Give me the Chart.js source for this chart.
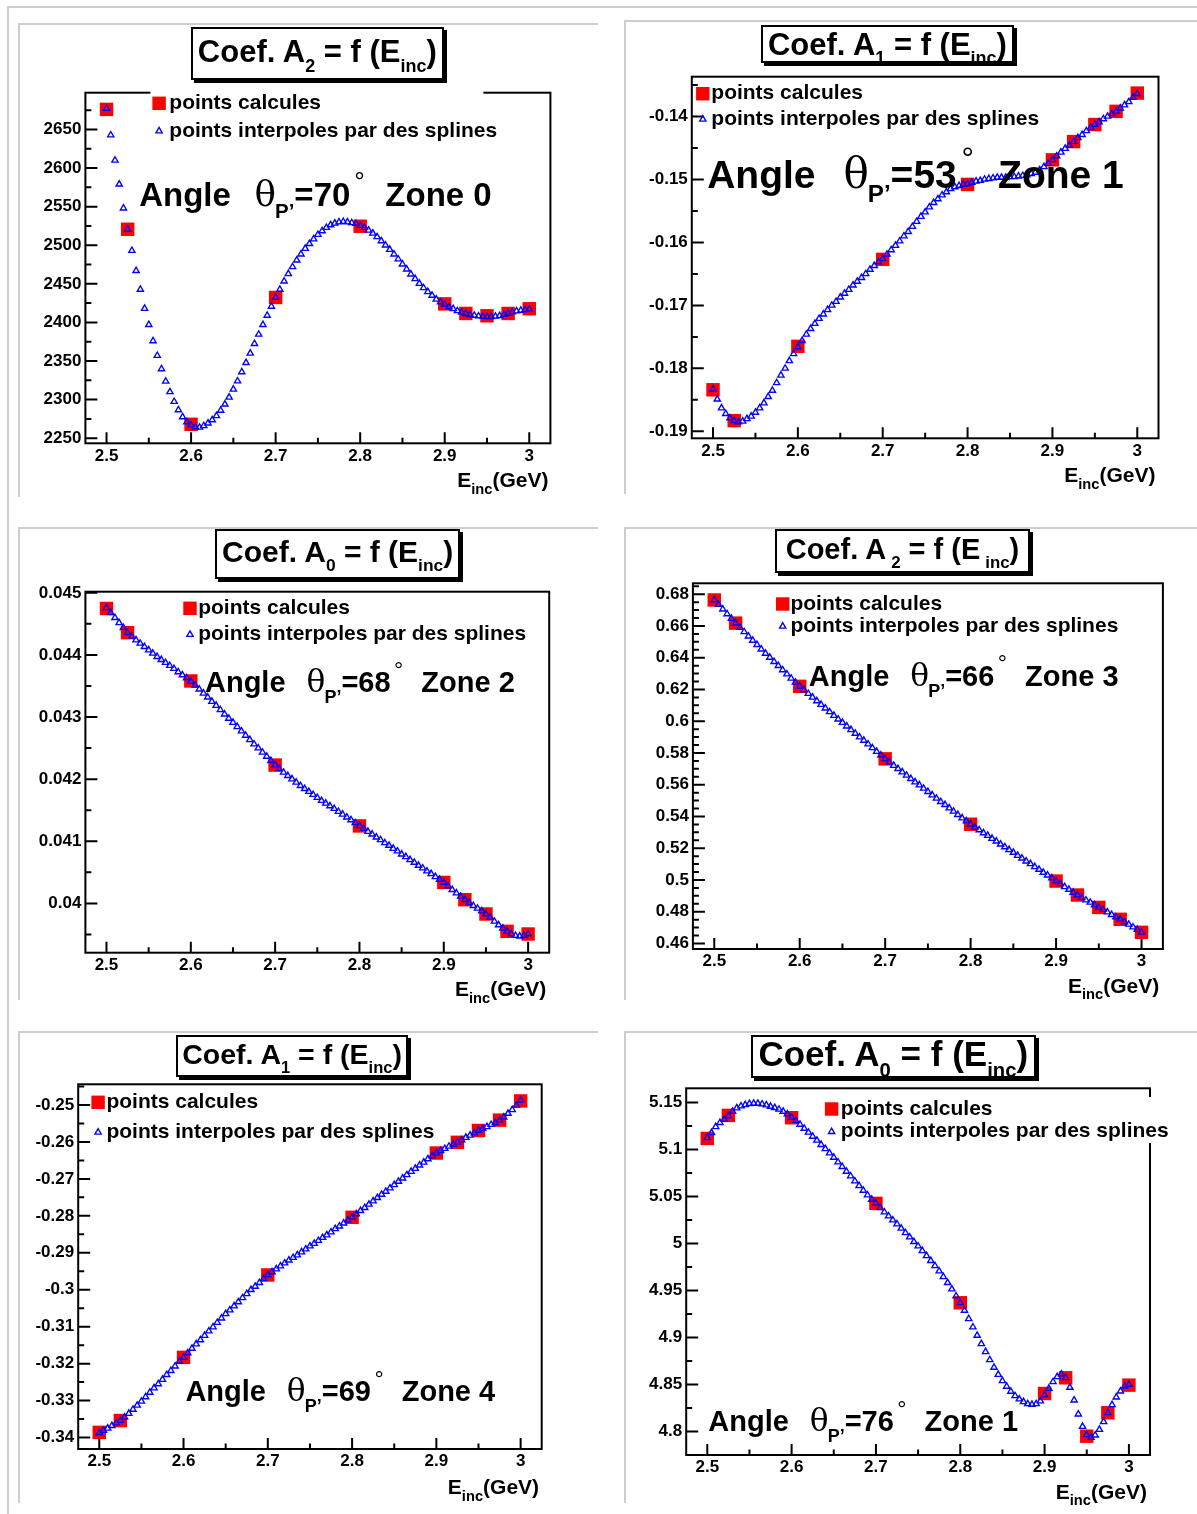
<!DOCTYPE html>
<html>
<head>
<meta charset="utf-8">
<title>Coef. A = f (Einc)</title>
<script src="https://cdn.jsdelivr.net/npm/chart.js@4.4.1/dist/chart.umd.min.js"></script>
<style>
html,body{margin:0;padding:0;background:#fff;overflow:hidden;}
#page{position:relative;width:1197px;height:1514px;overflow:hidden;background:#fff;font-family:"Liberation Sans",Arial,Helvetica,sans-serif;color:#000;}
.gl{position:absolute;background:#cdcdcd;}
canvas{position:absolute;}
.tbox{position:absolute;box-sizing:border-box;border:2px solid #000;background:#fff;box-shadow:3px 3px 0 #000;z-index:5;}
.ttxt{position:absolute;left:0;right:0;text-align:center;white-space:nowrap;font-weight:bold;line-height:1;}
.tsub{font-size:0.58em;position:relative;top:0.52em;}
.ann{position:absolute;white-space:nowrap;font-weight:bold;line-height:1;z-index:4;}
.th{font-family:"DejaVu Serif","Liberation Serif",serif;font-weight:normal;font-size:1.08em;}
.asub{font-size:0.62em;position:relative;top:0.6em;margin-left:-0.05em;}
.deg{font-size:0.8em;font-weight:normal;position:relative;top:-0.62em;margin-left:0.15em;}
.gap1{display:inline-block;width:0.72em;}
.gap2{display:inline-block;width:0.62em;}
.xt{position:absolute;white-space:nowrap;font-weight:bold;line-height:1;font-size:21px;z-index:4;}
.xsub{font-size:0.7em;position:relative;top:0.45em;}
</style>
</head>
<body>
<div id="page"></div>
<script>
// ---------------- DATA ----------------
const eCalc = [2.5, 2.525, 2.6, 2.7, 2.8, 2.9, 2.925, 2.95, 2.975, 3.0];
const eSpline = [
 2.5,2.505,2.51,2.515,2.52,2.525,2.53,2.535,2.54,2.545,
 2.55,2.555,2.56,2.565,2.57,2.575,2.58,2.585,2.59,2.595,
 2.6,2.605,2.61,2.615,2.62,2.625,2.63,2.635,2.64,2.645,
 2.65,2.655,2.66,2.665,2.67,2.675,2.68,2.685,2.69,2.695,
 2.7,2.705,2.71,2.715,2.72,2.725,2.73,2.735,2.74,2.745,
 2.75,2.755,2.76,2.765,2.77,2.775,2.78,2.785,2.79,2.795,
 2.8,2.805,2.81,2.815,2.82,2.825,2.83,2.835,2.84,2.845,
 2.85,2.855,2.86,2.865,2.87,2.875,2.88,2.885,2.89,2.895,
 2.9,2.905,2.91,2.915,2.92,2.925,2.93,2.935,2.94,2.945,
 2.95,2.955,2.96,2.965,2.97,2.975,2.98,2.985,2.99,2.995,
 3.0];

// Panel 1 : A2, zone 0
const a2z0Calc = [2676, 2520.7, 2268, 2432.3, 2524.6, 2424, 2411.6, 2408.6, 2411.6, 2417.7];
const a2z0Spline = [
 2677, 2642.7, 2610, 2579, 2548, 2520.7, 2493, 2467, 2442.7, 2418,
 2397, 2376, 2357, 2339.7, 2323.7, 2310, 2297.4, 2286.6, 2277.6, 2271,
 2267, 2264.6, 2264, 2266, 2269.4, 2273.7, 2279, 2286, 2294, 2303,
 2313.4, 2324, 2335.8, 2347.8, 2360, 2372.4, 2384.5, 2397, 2409, 2420.7,
 2432.3, 2442.7, 2453.4, 2463, 2472, 2480.6, 2488.4, 2495.7, 2502, 2508,
 2513.8, 2518.5, 2522.8, 2526.3, 2528.4, 2530, 2530.6, 2530, 2529, 2528,
 2525.4, 2522.8, 2519.4, 2515.5, 2510.8, 2505.6, 2500, 2494.4, 2488.4, 2482,
 2475.4, 2469, 2462.5, 2456.5, 2450.4, 2444.8, 2439.7, 2435, 2430, 2426.3,
 2423.3, 2420, 2417.7, 2415, 2413, 2411.2, 2410, 2409, 2408.2, 2407.8,
 2407.3, 2407.3, 2407.8, 2408.6, 2410.3, 2411.6, 2413.4, 2414.7, 2415.5, 2416.4,
 2417.2];

// Panel 2 : A1, zone 1
const a1z1Calc = [-0.1834, -0.1883, -0.1765, -0.1627, -0.1508, -0.1469, -0.1440, -0.1413, -0.1392, -0.1363];
const a1z1Spline = [
 -0.1833, -0.1849, -0.1863, -0.1872, -0.1879, -0.1883, -0.1885, -0.1884, -0.1880, -0.1876,
 -0.1870, -0.1863, -0.1855, -0.1845, -0.1835, -0.1823, -0.1811, -0.1800, -0.1788, -0.1777,
 -0.1766, -0.1756, -0.1746, -0.1737, -0.1729, -0.1721, -0.1714, -0.1707, -0.1700, -0.1694,
 -0.1687, -0.1681, -0.1675, -0.1668, -0.1662, -0.1656, -0.1650, -0.1643, -0.1637, -0.1631,
 -0.1626, -0.1619, -0.1612, -0.1605, -0.1598, -0.1590, -0.1583, -0.1575, -0.1567, -0.1559,
 -0.1552, -0.1544, -0.1537, -0.1531, -0.1525, -0.1520, -0.1515, -0.1512, -0.1510, -0.1508,
 -0.1507, -0.1505, -0.1503, -0.1502, -0.1500, -0.1499, -0.1498, -0.1497, -0.1497, -0.1497,
 -0.1496, -0.1496, -0.1495, -0.1494, -0.1493, -0.1491, -0.1489, -0.1485, -0.1480, -0.1475,
 -0.1469, -0.1463, -0.1457, -0.1451, -0.1446, -0.1440, -0.1434, -0.1429, -0.1423, -0.1418,
 -0.1413, -0.1409, -0.1404, -0.1400, -0.1396, -0.1392, -0.1387, -0.1382, -0.1377, -0.1370,
 -0.1364];

// Panel 3 : A0, zone 2
const a0z2Calc = [0.044748, 0.044358, 0.043581, 0.042227, 0.041247, 0.040337, 0.040059, 0.039829, 0.039550, 0.039507];
const a0z2Spline = [
 0.044759, 0.044679, 0.044599, 0.044518, 0.044438, 0.044358, 0.044299, 0.044240, 0.044186, 0.044133,
 0.044079, 0.044026, 0.043972, 0.043924, 0.043876, 0.043828, 0.043780, 0.043726, 0.043678, 0.043630,
 0.043576, 0.043512, 0.043448, 0.043383, 0.043319, 0.043250, 0.043185, 0.043116, 0.043046, 0.042977,
 0.042912, 0.042843, 0.042773, 0.042704, 0.042634, 0.042564, 0.042500, 0.042431, 0.042366, 0.042297,
 0.042227, 0.042168, 0.042109, 0.042056, 0.042002, 0.041949, 0.041895, 0.041847, 0.041799, 0.041751,
 0.041703, 0.041654, 0.041612, 0.041569, 0.041526, 0.041478, 0.041435, 0.041387, 0.041344, 0.041296,
 0.041248, 0.041205, 0.041157, 0.041114, 0.041066, 0.041023, 0.040974, 0.040932, 0.040883, 0.040841,
 0.040792, 0.040750, 0.040702, 0.040659, 0.040610, 0.040568, 0.040519, 0.040477, 0.040428, 0.040386,
 0.040337, 0.040279, 0.040220, 0.040166, 0.040113, 0.040059, 0.040011, 0.039963, 0.039920, 0.039877,
 0.039829, 0.039775, 0.039711, 0.039652, 0.039599, 0.039551, 0.039508, 0.039481, 0.039470, 0.039481,
 0.039508];

// Panel 4 : A2, zone 3
const a2z3Calc = [0.6764, 0.6618, 0.6220, 0.5763, 0.5351, 0.4993, 0.4905, 0.4827, 0.4752, 0.4670];
const a2z3Spline = [
 0.6764, 0.6735, 0.6706, 0.6676, 0.6647, 0.6618, 0.6591, 0.6563, 0.6536, 0.6509,
 0.6482, 0.6454, 0.6427, 0.6402, 0.6375, 0.6350, 0.6323, 0.6297, 0.6270, 0.6245,
 0.6220, 0.6197, 0.6174, 0.6151, 0.6128, 0.6105, 0.6082, 0.6059, 0.6036, 0.6013,
 0.5992, 0.5969, 0.5946, 0.5923, 0.5900, 0.5879, 0.5856, 0.5832, 0.5809, 0.5786,
 0.5763, 0.5742, 0.5721, 0.5701, 0.5680, 0.5659, 0.5638, 0.5617, 0.5598, 0.5577,
 0.5556, 0.5535, 0.5514, 0.5493, 0.5474, 0.5453, 0.5432, 0.5411, 0.5390, 0.5371,
 0.5351, 0.5332, 0.5315, 0.5296, 0.5280, 0.5261, 0.5244, 0.5225, 0.5208, 0.5190,
 0.5173, 0.5154, 0.5137, 0.5118, 0.5102, 0.5083, 0.5066, 0.5047, 0.5030, 0.5012,
 0.4993, 0.4976, 0.4957, 0.4940, 0.4921, 0.4905, 0.4888, 0.4873, 0.4859, 0.4842,
 0.4827, 0.4813, 0.4798, 0.4781, 0.4766, 0.4752, 0.4735, 0.4720, 0.4703, 0.4687,
 0.4670];

// Panel 5 : A1, zone 4
const a1z4Calc = [-0.3386, -0.3354, -0.3183, -0.2960, -0.2804, -0.2630, -0.2601, -0.2569, -0.2541, -0.2489];
const a1z4Spline = [
 -0.3387, -0.3381, -0.3375, -0.3368, -0.3361, -0.3354, -0.3345, -0.3335, -0.3324, -0.3313,
 -0.3302, -0.3290, -0.3278, -0.3266, -0.3255, -0.3243, -0.3230, -0.3219, -0.3207, -0.3194,
 -0.3183, -0.3171, -0.3159, -0.3147, -0.3136, -0.3124, -0.3112, -0.3101, -0.3089, -0.3077,
 -0.3065, -0.3055, -0.3044, -0.3033, -0.3022, -0.3011, -0.3000, -0.2991, -0.2981, -0.2970,
 -0.2960, -0.2952, -0.2944, -0.2936, -0.2928, -0.2920, -0.2913, -0.2906, -0.2898, -0.2890,
 -0.2882, -0.2875, -0.2867, -0.2859, -0.2852, -0.2844, -0.2835, -0.2828, -0.2820, -0.2812,
 -0.2804, -0.2795, -0.2786, -0.2778, -0.2769, -0.2760, -0.2751, -0.2742, -0.2734, -0.2725,
 -0.2716, -0.2707, -0.2698, -0.2689, -0.2680, -0.2672, -0.2663, -0.2655, -0.2646, -0.2638,
 -0.2630, -0.2624, -0.2618, -0.2612, -0.2606, -0.2601, -0.2595, -0.2588, -0.2582, -0.2576,
 -0.2569, -0.2564, -0.2559, -0.2553, -0.2548, -0.2541, -0.2533, -0.2523, -0.2513, -0.2501,
 -0.2487];

// Panel 6 : A0, zone 1
const a0z1Calc = [5.1117, 5.1362, 5.1337, 5.0426, 4.9369, 4.8404, 4.8571, 4.7950, 4.8199, 4.8493];
const a0z1Spline = [
 5.1124, 5.1177, 5.1241, 5.1284, 5.1319, 5.1355, 5.1404, 5.1440, 5.1461, 5.1475,
 5.1486, 5.1489, 5.1489, 5.1482, 5.1472, 5.1457, 5.1443, 5.1426, 5.1404, 5.1376,
 5.1340, 5.1305, 5.1266, 5.1223, 5.1181, 5.1138, 5.1096, 5.1050, 5.1007, 5.0961,
 5.0915, 5.0865, 5.0816, 5.0766, 5.0716, 5.0663, 5.0613, 5.0564, 5.0514, 5.0468,
 5.0426, 5.0379, 5.0333, 5.0291, 5.0248, 5.0206, 5.0160, 5.0113, 5.0067, 5.0018,
 4.9972, 4.9922, 4.9869, 4.9816, 4.9762, 4.9706, 4.9645, 4.9582, 4.9514, 4.9440,
 4.9369, 4.9287, 4.9199, 4.9110, 4.9021, 4.8933, 4.8848, 4.8762, 4.8681, 4.8606,
 4.8539, 4.8479, 4.8426, 4.8379, 4.8344, 4.8316, 4.8294, 4.8287, 4.8294, 4.8323,
 4.8387, 4.8457, 4.8528, 4.8582, 4.8610, 4.8571, 4.8468, 4.8333, 4.8184, 4.8053,
 4.7965, 4.7936, 4.7961, 4.8021, 4.8103, 4.8199, 4.8284, 4.8365, 4.8429, 4.8482,
 4.8500];

// Tick labels
const xTickLabels = ["2.5", "2.6", "2.7", "2.8", "2.9", "3"];
const xMinorTicks = [2.55, 2.65, 2.75, 2.85, 2.95];
const yTicks1 = ["2250", "2300", "2350", "2400", "2450", "2500", "2550", "2600", "2650"];
const yMinor1 = [2275, 2325, 2375, 2425, 2475, 2525, 2575, 2625, 2675];
const yTicks2 = ["-0.19", "-0.18", "-0.17", "-0.16", "-0.15", "-0.14"];
const yMinor2 = [-0.185, -0.175, -0.165, -0.155, -0.145, -0.135];
const yTicks3 = ["0.04", "0.041", "0.042", "0.043", "0.044", "0.045"];
const yMinor3 = [0.0395, 0.0405, 0.0415, 0.0425, 0.0435, 0.0445];
const yTicks4 = ["0.46", "0.48", "0.5", "0.52", "0.54", "0.56", "0.58", "0.6", "0.62", "0.64", "0.66", "0.68"];
const yMinor4 = [0.465, 0.47, 0.475, 0.485, 0.49, 0.495, 0.505, 0.51, 0.515, 0.525, 0.53, 0.535,
                 0.545, 0.55, 0.555, 0.565, 0.57, 0.575, 0.585, 0.59, 0.595, 0.605, 0.61, 0.615,
                 0.625, 0.63, 0.635, 0.645, 0.65, 0.655, 0.665, 0.67, 0.675, 0.685];
const yTicks5 = ["-0.34", "-0.33", "-0.32", "-0.31", "-0.3", "-0.29", "-0.28", "-0.27", "-0.26", "-0.25"];
const yMinor5 = [-0.335, -0.325, -0.315, -0.305, -0.295, -0.285, -0.275, -0.265, -0.255, -0.245];
const yTicks6 = ["4.8", "4.85", "4.9", "4.95", "5", "5.05", "5.1", "5.15"];
const yMinor6 = [4.825, 4.875, 4.925, 4.975, 5.025, 5.075, 5.125];

// Texts
const legendLabels = ["points calcules", "points interpoles par des splines"];
const coefSubs = ["2", "1", "0", "2", "1", "0"];
const angles = ["70", "53", "68", "66", "69", "76"];
const zones = ["Zone 0", "Zone 1", "Zone 2", "Zone 3", "Zone 4", "Zone 1"];

// ---------------- LAYOUT / STYLE ----------------
const FONT = "'Liberation Sans', Arial, Helvetica, sans-serif";
const TICK_FONT = { family: FONT, size: 17, weight: 'bold' };
const panels = [
 { calc:a2z0Calc, spline:a2z0Spline, yLabels:yTicks1, yMinor:yMinor1, yMin:2243.4, yMax:2697.6,
   canvas:[18,18,582,482], frame:[85.4,92.7,550.4,443.3],
   tbox:[190.7,27.3,443.9,80], tbase:62.7, tfs:31, spaced:false,
   ann:[139.2,204,33], legend:{mx:159.1, rows:[103.3,131], tx:169.3, box:[150.4,84,483.4,146]},
   xt:[548.5,486.8] },
 { calc:a1z1Calc, spline:a1z1Spline, yLabels:yTicks2, yMinor:yMinor2, yMin:-0.1911, yMax:-0.1337,
   canvas:[622,18,575,482], frame:[691.8,76.7,1158.5,438.3],
   tbox:[761,25,1013.8,63.3], tbase:55, tfs:31, spaced:false,
   ann:[707.2,186,39], legend:{mx:702.8, rows:[93.7,119.3], tx:711.3, box:null},
   xt:[1155.5,481.8] },
 { calc:a0z2Calc, spline:a0z2Spline, yLabels:yTicks3, yMinor:yMinor3, yMin:0.039206, yMax:0.045018,
   canvas:[18,522,582,483], frame:[85.4,591.7,549.2,952.7],
   tbox:[215.2,529,460.1,579], tbase:562.3, tfs:30, spaced:false,
   ann:[205,690.7,29], legend:{mx:190, rows:[608.3,634.5], tx:198.2, box:null},
   xt:[546.2,996] },
 { calc:a2z3Calc, spline:a2z3Spline, yLabels:yTicks4, yMinor:yMinor4, yMin:0.4565, yMax:0.6869,
   canvas:[622,522,575,483], frame:[692.9,583.3,1162.9,949],
   tbox:[774.6,529,1030.4,573.3], tbase:560, tfs:29, spaced:true,
   ann:[808.8,684.3,29], legend:{mx:782.7, rows:[604,626.3], tx:790.4, box:null},
   xt:[1159.2,992.5] },
 { calc:a1z4Calc, spline:a1z4Spline, yLabels:yTicks5, yMinor:yMinor5, yMin:-0.3431, yMax:-0.2444,
   canvas:[18,1027,582,487], frame:[78.2,1084.3,541.7,1449],
   tbox:[176,1035,408.2,1076.7], tbase:1064.3, tfs:28.5, spaced:false,
   ann:[185.4,1400,29], legend:{mx:98.1, rows:[1102.3,1132.3], tx:106.4, box:null},
   xt:[539.1,1494] },
 { calc:a0z1Calc, spline:a0z1Spline, yLabels:yTicks6, yMinor:yMinor6, yMin:4.7750, yMax:5.1650,
   canvas:[622,1027,575,487], frame:[686.2,1088.3,1150,1455],
   tbox:[750.7,1035,1035.9,1078.3], tbase:1066, tfs:35, spaced:false,
   ann:[708.3,1430,29], legend:{mx:831.6, rows:[1109,1131.7], tx:840.8, box:[825,1097,1181,1143]},
   xt:[1147,1498.5] }
];

const grayLines = [
 [7,6,1190,1.5],[7,6,1.5,1508],
 [18,23,580,1.5],[18,23,1.5,474],
 [624,20,573,1.5],[624,20,1.5,474],
 [18,527,580,1.5],[18,527,1.5,473],
 [624,527,573,1.5],[624,527,1.5,473],
 [18,1031,580,1.5],[18,1031,1.5,472],
 [624,1031,573,1.5],[624,1031,1.5,472]
];

const page = document.getElementById('page');
grayLines.forEach(r => {
  const d = document.createElement('div'); d.className = 'gl';
  d.style.cssText = `left:${r[0]}px;top:${r[1]}px;width:${r[2]}px;height:${r[3]}px;`;
  page.appendChild(d);
});

// Plugin: ROOT-style frame, inward ticks, in-frame legend
const rootPlugin = {
  id: 'rootFrame',
  beforeDatasetsDraw(chart) {
    const p = chart.canvas._panel; if (!p) return;
    const ctx = chart.ctx, a = chart.chartArea, x = chart.scales.x, y = chart.scales.y;
    ctx.save();
    ctx.strokeStyle = '#000'; ctx.lineWidth = 2; ctx.lineCap = 'butt';
    ctx.beginPath();
    p.yLabels.forEach(s => { const py = y.getPixelForValue(parseFloat(s)); ctx.moveTo(a.left, py); ctx.lineTo(a.left + 12, py); });
    p.yMinor.forEach(v => { const py = y.getPixelForValue(v); ctx.moveTo(a.left, py); ctx.lineTo(a.left + 6, py); });
    xTickLabels.forEach(s => { const px = x.getPixelForValue(parseFloat(s)); ctx.moveTo(px, a.bottom); ctx.lineTo(px, a.bottom - 11); });
    xMinorTicks.forEach(v => { const px = x.getPixelForValue(v); ctx.moveTo(px, a.bottom); ctx.lineTo(px, a.bottom - 5.5); });
    ctx.stroke();
    ctx.strokeRect(a.left, a.top, a.right - a.left, a.bottom - a.top);
    ctx.restore();
  },
  afterDatasetsDraw(chart) {
    const p = chart.canvas._panel; if (!p) return;
    const ctx = chart.ctx, lg = p.legend, ox = p.canvas[0], oy = p.canvas[1];
    ctx.save();
    if (lg.box) { ctx.fillStyle = '#fff'; ctx.fillRect(lg.box[0]-ox, lg.box[1]-oy, lg.box[2]-lg.box[0], lg.box[3]-lg.box[1]); }
    const order = [1, 0];
    order.forEach((di, r) => {
      const ds = chart.data.datasets[di];
      const cx = lg.mx - ox, cy = lg.rows[r] - oy, rad = ds.pointRadius;
      if (ds.pointStyle === 'rect') {
        const s = rad * Math.SQRT1_2;
        ctx.fillStyle = ds.pointBackgroundColor;
        ctx.fillRect(cx - s, cy - s, 2*s, 2*s);
      } else {
        ctx.beginPath();
        ctx.moveTo(cx, cy - rad);
        ctx.lineTo(cx + rad*0.8660254, cy + rad*0.5);
        ctx.lineTo(cx - rad*0.8660254, cy + rad*0.5);
        ctx.closePath();
        ctx.strokeStyle = ds.pointBorderColor; ctx.lineWidth = ds.pointBorderWidth;
        ctx.stroke();
      }
      ctx.fillStyle = '#000';
      ctx.font = `bold 21px ${FONT}`;
      ctx.textAlign = 'left'; ctx.textBaseline = 'middle';
      ctx.fillText(ds.label, lg.tx - ox, cy);
    });
    ctx.restore();
  }
};

panels.forEach((p, k) => {
  const [cl, ct, cw, ch] = p.canvas;
  const [fl, ft, fr, fb] = p.frame;
  const cv = document.createElement('canvas');
  cv.width = cw; cv.height = ch;
  cv.style.cssText = `left:${cl}px;top:${ct}px;width:${cw}px;height:${ch}px;z-index:2;`;
  cv._panel = p;
  page.appendChild(cv);
  const yW = fl - cl, xH = (ct + ch) - fb;
  new Chart(cv.getContext('2d'), {
    type: 'scatter',
    data: { datasets: [
      { label: legendLabels[1], data: eSpline.map((e, i) => ({x: e, y: p.spline[i]})),
        pointStyle: 'triangle', pointRadius: 3.6, pointBorderWidth: 1.35,
        pointBorderColor: '#0000ff', pointBackgroundColor: 'rgba(0,0,0,0)',
        borderColor: '#0000ff', backgroundColor: 'rgba(0,0,0,0)', showLine: false, order: 0, clip: false },
      { label: legendLabels[0], data: eCalc.map((e, i) => ({x: e, y: p.calc[i]})),
        pointStyle: 'rect', pointRadius: 9.5, pointBorderWidth: 0,
        pointBorderColor: '#ff0000', pointBackgroundColor: '#ff0000',
        borderColor: '#ff0000', backgroundColor: '#ff0000', showLine: false, order: 1, clip: false }
    ]},
    options: {
      responsive: false, animation: false, devicePixelRatio: 1, events: [],
      layout: { padding: { left: 0, top: ft - ct, right: (cl + cw) - fr, bottom: 0 } },
      plugins: { legend: { display: false }, tooltip: { enabled: false }, title: { display: false } },
      scales: {
        x: { type: 'linear', position: 'bottom', min: 2.475, max: 3.025,
             grid: { display: false, drawTicks: false }, border: { display: false },
             afterBuildTicks: s => { s.ticks = xTickLabels.map(t => ({value: parseFloat(t)})); },
             afterFit: s => { s.height = xH; },
             ticks: { autoSkip: false, maxRotation: 0, minRotation: 0, padding: 2.5, color: '#000',
                      font: TICK_FONT, callback: (v, i) => xTickLabels[i] } },
        y: { type: 'linear', position: 'left', min: p.yMin, max: p.yMax,
             grid: { display: false, drawTicks: false }, border: { display: false },
             afterBuildTicks: s => { s.ticks = p.yLabels.map(t => ({value: parseFloat(t)})); },
             afterFit: s => { s.width = yW; },
             ticks: { autoSkip: false, padding: 4, color: '#000',
                      font: TICK_FONT, callback: (v, i) => p.yLabels[i] } }
      }
    },
    plugins: [rootPlugin]
  });

  // Title box
  const b = p.tbox;
  const box = document.createElement('div'); box.className = 'tbox';
  box.style.cssText = `left:${b[0]}px;top:${b[1]}px;width:${b[2]-b[0]}px;height:${b[3]-b[1]}px;`;
  const tt = document.createElement('div'); tt.className = 'ttxt';
  tt.style.fontSize = p.tfs + 'px';
  tt.style.top = (p.tbase - b[1] - 2 - 0.8465 * p.tfs) + 'px';
  const ml = p.spaced ? 'margin-left:0.3em;' : '';
  tt.innerHTML = `Coef. A<span class="tsub" style="${ml}">${coefSubs[k]}</span> = f (E<span class="tsub" style="${ml}">inc</span>)`;
  box.appendChild(tt); page.appendChild(box);

  // Angle annotation
  const [ax, abase, afs] = p.ann;
  const an = document.createElement('div'); an.className = 'ann';
  an.style.cssText = `left:${ax}px;top:${abase - 0.8465*afs}px;font-size:${afs}px;`;
  an.innerHTML = `Angle<span class="gap1"></span><span class="th">θ</span><span class="asub">P’</span>=${angles[k]}<span class="deg">°</span><span class="gap2"></span>${zones[k]}`;
  page.appendChild(an);

  // x axis title
  const xt = document.createElement('div'); xt.className = 'xt';
  xt.style.cssText = `right:${1197 - p.xt[0]}px;top:${p.xt[1] - 0.8465*21}px;`;
  xt.innerHTML = `E<span class="xsub">inc</span>(GeV)`;
  page.appendChild(xt);
});
</script>
</body>
</html>
